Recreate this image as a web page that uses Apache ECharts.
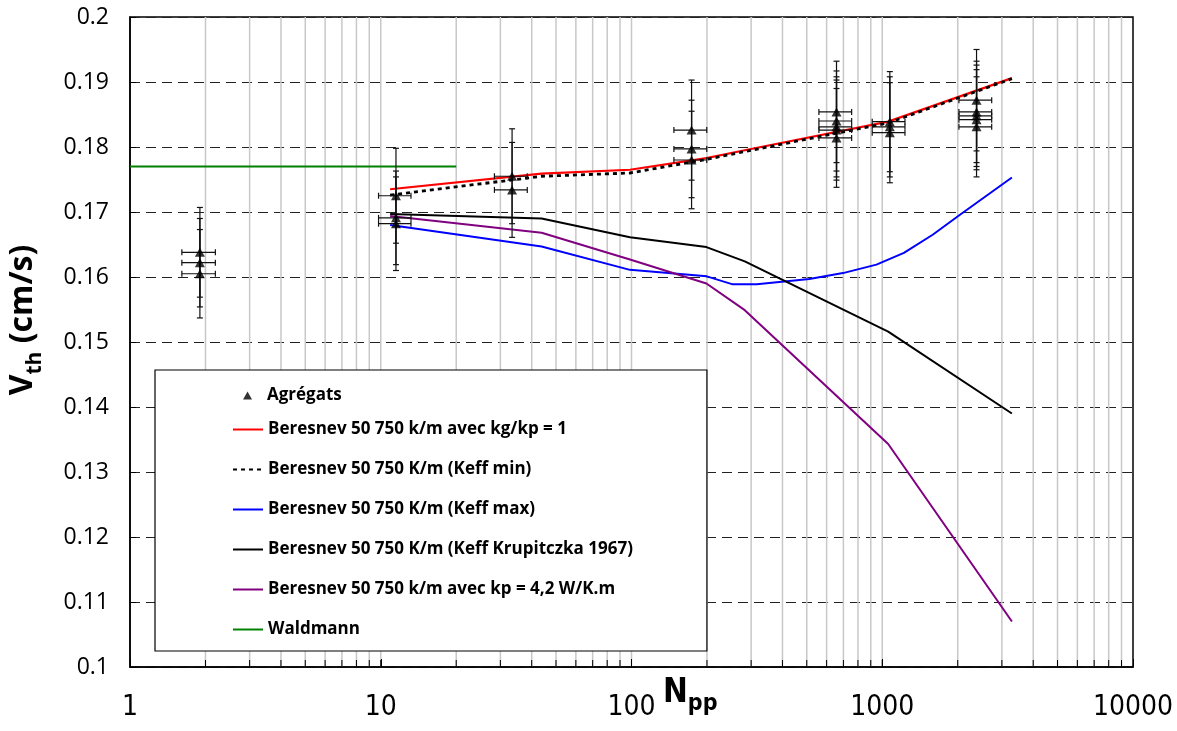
<!DOCTYPE html>
<html><head><meta charset="utf-8">
<script src="https://cdn.jsdelivr.net/npm/echarts@6/dist/echarts.min.js"></script>
<style>html,body{margin:0;padding:0;background:#fff}#c{width:1177px;height:731px}</style>
</head><body><div id="c"></div>
<script>
// ---------- data ----------
const xTickLabels = ['1', '10', '100', '1000', '10000'];
const decades = [1, 10, 100, 1000];

// Agrégats (measured points): N, Vth, error bars
const aggN    = [1.9, 1.9, 1.9, 11.5, 11.5, 11.5, 33.4, 33.4, 173.6, 173.6, 173.6, 657, 657, 657, 657, 657, 1072, 1072, 1072, 2377, 2377, 2377, 2377, 2377];
const aggV    = [0.1638, 0.1622, 0.1605, 0.1725, 0.1691, 0.1682, 0.1755, 0.1734, 0.1826, 0.1797, 0.1780, 0.1854, 0.1840, 0.1831, 0.1826, 0.1814, 0.1839, 0.1831, 0.1822, 0.1872, 0.1854, 0.1848, 0.1842, 0.1831];
const aggVErr = [0.0069, 0.0068, 0.0068, 0.0073, 0.0072, 0.0072, 0.0073, 0.0073, 0.0077, 0.0075, 0.0075, 0.0078, 0.0077, 0.0077, 0.0077, 0.0076, 0.0077, 0.0077, 0.0077, 0.0078, 0.0078, 0.0078, 0.0077, 0.0077];
const aggNErr = [0.29, 0.29, 0.29, 1.7, 1.7, 1.7, 5.0, 5.0, 26, 26, 26, 98, 98, 98, 98, 98, 160, 160, 160, 355, 355, 355, 355, 355];

// Beresnev model curves
const modelN      = [10.9, 43.8, 98.6, 199, 283, 1056, 3289];
const redV        = [0.1735, 0.1759, 0.1765, 0.1783, 0.1795, 0.1839, 0.1906];
const keffMinV    = [0.1726, 0.1755, 0.1760, 0.1781, 0.1793, 0.1837, 0.1905];
const krupitczkaV = [0.1697, 0.1690, 0.1661, 0.1646, 0.1624, 0.1516, 0.1390];
const kp42V       = [0.1694, 0.1668, 0.1627, 0.1590, 0.1549, 0.1343, 0.1070];
const keffMaxN    = [10.9, 43.8, 98.6, 199.6, 251.5, 316, 512, 697, 948, 1220, 1589, 2029, 3289];
const keffMaxV    = [0.1680, 0.1647, 0.1611, 0.1601, 0.1589, 0.1589, 0.1597, 0.1606, 0.1619, 0.1637, 0.1665, 0.1695, 0.1753];
const waldN       = [1, 20];
const waldV       = [0.177, 0.177];

const names = [
  'Agrégats',
  'Beresnev 50 750 k/m avec kg/kp = 1',
  'Beresnev 50 750 K/m (Keff min)',
  'Beresnev 50 750 K/m (Keff max)',
  'Beresnev 50 750 K/m (Keff Krupitczka 1967)',
  'Beresnev 50 750 k/m avec kp = 4,2 W/K.m',
  'Waldmann'
];

// ---------- build ----------
const pairs = (xs, ys) => xs.map((x, i) => [x, ys[i]]);
const gridN = [];
decades.forEach(d => { for (let k = 1; k <= 9; k++) { const v = k * d; if (v > 1) gridN.push([v, 0.1]); } });

const errData = aggN.map((n, i) => [n, aggV[i], n - aggNErr[i], n + aggNErr[i], aggV[i] - aggVErr[i], aggV[i] + aggVErr[i]]);

const FONT = '"Open Sans", "DejaVu Sans", sans-serif';
const NARROW = '"Liberation Sans Narrow", "DejaVu Sans Condensed", "Liberation Sans", sans-serif';

const chart = echarts.init(document.getElementById('c'), null, { renderer: 'canvas' });

const lineSeries = (name, xs, ys, color, width, type, z) => ({
  name, type: 'line', data: pairs(xs, ys), symbol: 'none', showSymbol: false,
  lineStyle: { color, width, type: type || 'solid' }, itemStyle: { color },
  z: z || 3, silent: true
});

chart.setOption({
  animation: false,
  backgroundColor: '#fff',
  grid: { left: 130, right: 44, top: 17, bottom: 64, show: true, borderColor: '#000', borderWidth: 1.5, containLabel: false, outerBoundsMode: 'none' },
  xAxis: {
    type: 'log', logBase: 10, min: 1, max: 10000,
    axisLine: { show: true, lineStyle: { color: '#000', width: 1.5 } },
    axisTick: { show: true, inside: true, length: 8, lineStyle: { color: '#000' } },
    splitLine: { show: false },
    axisLabel: {
      color: '#000', fontFamily: NARROW, fontSize: 28, margin: 27,
      formatter: v => { const i = Math.round(Math.log10(v)); return xTickLabels[i] !== undefined ? xTickLabels[i] : ''; }
    }
  },
  yAxis: {
    type: 'value', min: 0.1, max: 0.2, interval: 0.01,
    axisLine: { show: true, lineStyle: { color: '#000', width: 1.5 } },
    axisTick: { show: true, inside: true, length: 6, lineStyle: { color: '#000' } },
    splitLine: { show: true, lineStyle: { color: '#222', width: 1, type: [10, 6] } },
    axisLabel: { color: '#000', fontFamily: FONT, fontSize: 23, margin: 21, formatter: v => String(parseFloat(v.toFixed(2))) },
    name: '{a|V}{b|th}{a| (cm/s)}',
    nameLocation: 'middle', nameRotate: 90, nameGap: 84,
    nameTextStyle: {
      padding: [0, 0, 0, 44],
      rich: {
        a: { fontFamily: FONT, fontWeight: 'bold', fontSize: 32, color: '#000', verticalAlign: 'bottom', padding: [0, 0, 7, 0], lineHeight: 44 },
        b: { fontFamily: FONT, fontWeight: 'bold', fontSize: 21, color: '#000', verticalAlign: 'bottom', lineHeight: 44 }
      }
    }
  },
  legend: [
    {
      data: [{ name: names[0], icon: 'triangle' }],
      left: 243, top: 387, orient: 'vertical', padding: 0,
      itemWidth: 9, itemHeight: 8, selectedMode: false, z: 6,
      textStyle: { fontFamily: FONT, fontWeight: 'bold', fontSize: 17, color: '#000', padding: [0, 0, 0, 10] }
    },
    {
      data: names.slice(1),
      left: 155, top: 370, orient: 'vertical',
      padding: [51, 74, 13, 77], itemGap: 23, itemWidth: 30, itemHeight: 14,
      backgroundColor: '#fff', borderColor: '#000', borderWidth: 1.2, borderRadius: 0,
      selectedMode: false, z: 5,
      itemStyle: { opacity: 0 },
      textStyle: { fontFamily: FONT, fontWeight: 'bold', fontSize: 17, color: '#000' }
    }
  ],
  graphic: [{
    type: 'text', left: 663, top: 677, z: 10,
    style: {
      text: '{n|N}{p|pp}',
      rich: {
        n: { fontFamily: NARROW, fontWeight: 'bold', fontSize: 33, fill: '#000', verticalAlign: 'bottom', padding: [0, 0, 6, 0], lineHeight: 44 },
        p: { fontFamily: NARROW, fontWeight: 'bold', fontSize: 23, fill: '#000', verticalAlign: 'bottom', lineHeight: 44 }
      }
    }
  }],
  series: [
    {
      name: 'vgrid', type: 'custom', data: gridN, silent: true, z: 0, clip: true,
      encode: { x: 0, y: 1 },
      renderItem: (params, api) => {
        const b = api.coord([api.value(0), 0.1]);
        const t = api.coord([api.value(0), 0.2]);
        return { type: 'group', children: [
          { type: 'line', shape: { x1: b[0], y1: b[1], x2: t[0], y2: t[1] }, style: { stroke: '#c8c8c8', lineWidth: 1.5 } },
          { type: 'line', z2: 5, shape: { x1: b[0], y1: b[1], x2: b[0], y2: b[1] - 7 }, style: { stroke: '#000', lineWidth: 1 } }
        ] };
      }
    },
    lineSeries(names[1], modelN, redV, '#ff0000', 2.2, 'solid', 3),
    lineSeries(names[2], modelN, keffMinV, '#000000', 2.8, [4, 4], 4),
    lineSeries(names[3], keffMaxN, keffMaxV, '#0000ff', 2, 'solid', 3),
    lineSeries(names[4], modelN, krupitczkaV, '#000000', 2, 'solid', 3),
    lineSeries(names[5], modelN, kp42V, '#800080', 2, 'solid', 3),
    lineSeries(names[6], waldN, waldV, '#008000', 2, 'solid', 3),
    {
      name: 'errbars', type: 'custom', data: errData, silent: true, z: 5,
      encode: { x: 0, y: 1 },
      renderItem: (params, api) => {
        const x = api.value(0), y = api.value(1);
        const top = api.coord([x, api.value(5)]), bot = api.coord([x, api.value(4)]);
        const l = api.coord([api.value(2), y]), r = api.coord([api.value(3), y]);
        const c = 3, st = { stroke: '#111', lineWidth: 1.2 };
        const ln = (x1, y1, x2, y2) => ({ type: 'line', shape: { x1, y1, x2, y2 }, style: st });
        return { type: 'group', children: [
          ln(top[0], top[1], bot[0], bot[1]),
          ln(top[0] - c, top[1], top[0] + c, top[1]),
          ln(bot[0] - c, bot[1], bot[0] + c, bot[1]),
          ln(l[0], l[1], r[0], r[1]),
          ln(l[0], l[1] - c, l[0], l[1] + c),
          ln(r[0], r[1] - c, r[0], r[1] + c)
        ] };
      }
    },
    {
      name: names[0], type: 'scatter', data: pairs(aggN, aggV),
      symbol: 'triangle', symbolSize: [10, 9], itemStyle: { color: '#000' }, z: 6, silent: true
    }
  ]
});
</script>
</body></html>
